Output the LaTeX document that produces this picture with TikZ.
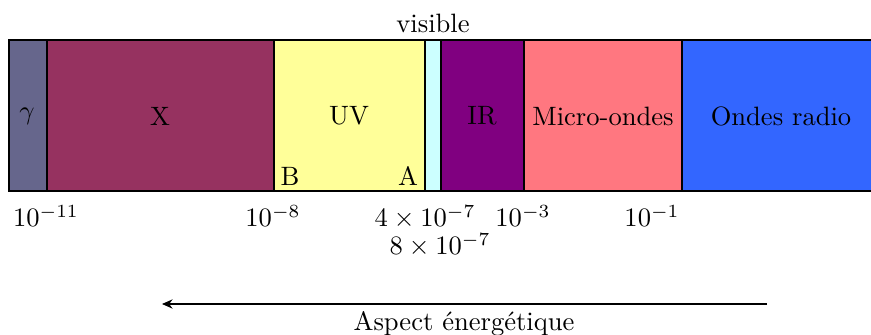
\documentclass[tikz,border=0pt]{standalone}
\usetikzlibrary{arrows.meta}
\definecolor{cgamma}{RGB}{102,102,140}
\definecolor{cx}{RGB}{150,50,96}
\definecolor{cuv}{RGB}{255,255,153}
\definecolor{cvis}{RGB}{204,255,255}
\definecolor{cir}{RGB}{128,0,128}
\definecolor{cmicro}{RGB}{255,119,128}
\definecolor{cradio}{RGB}{51,102,255}
\begin{document}
\begin{tikzpicture}[x=0.013228cm,y=-0.013228cm,
  band/.style={draw=black,line width=0.4pt},
  lab/.style={inner sep=0pt,font=\normalsize},
  tick/.style={inner sep=0pt,anchor=base}]
\useasboundingbox (0,0) rectangle (871,335);
\fill[cgamma] (9,40) rectangle (47,191);
\fill[cx] (47,40) rectangle (274,191);
\fill[cuv] (274,40) rectangle (425,191);
\fill[cvis] (425,40) rectangle (441,191);
\fill[cir] (441,40) rectangle (524,191);
\fill[cmicro] (524,40) rectangle (682,191);
\fill[cradio] (682,40) rectangle (871,191);
\draw[band] (871,40) -- (9,40) -- (9,191) -- (871,191);
\foreach \xx in {47,274,425,441,524,682} \draw[band] (\xx,40) -- (\xx,191);
\node[lab] (gamma) at (27,116) {$\gamma$};
\node[lab] (xray) at (160,116) {X};
\node[lab] (uv) at (349,116) {UV};
\node[lab] (ir) at (482,116) {IR};
\node[lab] (micro) at (603,116) {Micro-ondes};
\node[lab] (radio) at (781,116) {Ondes radio};
\node[lab] (b) at (290,176) {B};
\node[lab] (a) at (408,176) {A};
\node[lab] (vis) at (433,23) {visible};
\node[tick] (t1) at (46,227) {$10^{-11}$};
\node[tick] (t2) at (273,227) {$10^{-8}$};
\node[tick] (t3) at (425,227) {$4\times10^{-7}$};
\node[tick] (t4) at (523,227) {$10^{-3}$};
\node[tick] (t5) at (652,227) {$10^{-1}$};
\node[tick] (t6) at (440,255) {$8\times10^{-7}$};
\coordinate (as) at (767,304);
\coordinate (ae) at (162,304);
\draw[-{Stealth[length=4pt,width=3.5pt]}] (as) -- (ae);
\node[tick] (asp) at (464,331) {Aspect énergétique};
\end{tikzpicture}
\end{document}
